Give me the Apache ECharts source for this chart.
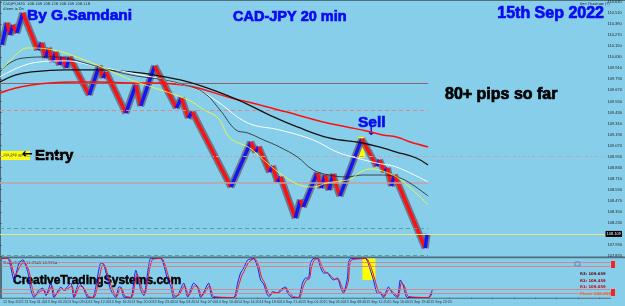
<!DOCTYPE html>
<html>
<head>
<meta charset="utf-8">
<script src="https://cdn.jsdelivr.net/npm/echarts@6/dist/echarts.min.js"></script>
<style>
html, body { margin: 0; padding: 0; background: #87ceeb; }
#chart { width: 625px; height: 306px; }
</style>
</head>
<body>
<div id="chart"></div>
<script>
// swing points of the CADJPY M20 price (bar index, price)
var pivotBars = [1, 3.5, 5, 6.5, 8.5, 11.5, 19, 21, 23, 24.5, 26.5, 28, 30, 31.5, 33.5, 35, 45, 50, 52, 53.5,
  63.5, 68.5, 71, 78, 89, 91.5, 95, 97, 116.5, 126.5, 129, 130.5, 136, 137.5, 140, 141.5, 149, 151.5, 153,
  160, 162, 164, 166, 168, 170, 171.5, 182.5, 190, 191.5, 194, 195.5, 197.5, 199, 214.5, 215.5];
var pivotPrices = [110.164, 110.403, 110.272, 110.381, 110.294, 110.511, 110.109, 110.185, 110.022, 110.131,
  109.979, 110.087, 109.946, 110.033, 109.914, 110.033, 109.620, 109.935, 109.805, 109.870,
  109.424, 109.729, 109.501, 109.935, 109.479, 109.587, 109.370, 109.435, 108.620, 109.109, 109.000, 109.055,
  108.783, 108.848, 108.674, 108.729, 108.283, 108.479, 108.403,
  108.772, 108.609, 108.750, 108.587, 108.761, 108.609, 108.522, 109.142, 108.848, 108.913, 108.783, 108.827,
  108.631, 108.750, 107.957, 108.109];

// moving averages [bar, price]
var maRed = [[0, 109.642], [8, 109.696], [16, 109.729], [25, 109.751], [37, 109.761], [50, 109.761], [66, 109.751],
  [80, 109.751], [92, 109.729], [100, 109.696], [115, 109.598], [133, 109.501], [150, 109.403], [163, 109.327],
  [175, 109.272], [185, 109.229], [193, 109.185], [200, 109.164], [207, 109.109], [216, 109.055]];
var maBlackSlow = [[0, 109.761], [8, 109.837], [16, 109.870], [33, 109.892], [50, 109.892], [66, 109.870],
  [78, 109.837], [91, 109.783], [103, 109.707], [120, 109.566], [138, 109.381], [150, 109.272], [166, 109.153],
  [183, 109.098], [193, 109.044], [200, 109.000], [210, 108.935], [216, 108.859]];
var maWhite = [[0, 109.816], [10, 109.924], [20, 109.979], [33, 109.990], [50, 109.924], [66, 109.859],
  [83, 109.783], [100, 109.674], [110, 109.544], [125, 109.316], [141, 109.240], [158, 109.131], [170, 109.000],
  [180, 108.935], [190, 108.881], [200, 108.837], [216, 108.674]];
var maBlackFast = [[0, 109.870], [5, 109.968], [12, 110.022], [25, 110.033], [33, 110.022], [41, 109.979],
  [50, 109.924], [66, 109.837], [83, 109.783], [93, 109.729], [103, 109.642], [111, 109.457], [119, 109.240],
  [125, 109.207], [133, 109.131], [141, 109.055], [150, 108.946], [158, 108.805], [166, 108.750], [175, 108.729],
  [183, 108.750], [193, 108.750], [200, 108.729], [206, 108.674], [216, 108.522]];
var maYellow = [[1, 109.892], [8, 110.055], [14, 110.131], [27, 110.109], [40, 110.022], [50, 109.935],
  [66, 109.783], [78, 109.696], [95, 109.566], [103, 109.457], [110, 109.370], [116, 109.153], [126, 109.044],
  [133, 108.913], [141, 108.772], [151, 108.642], [158, 108.620], [165, 108.664], [172, 108.685], [177, 108.707],
  [182, 108.783], [187, 108.816], [193, 108.794], [200, 108.729], [206, 108.631], [216, 108.424]];

// horizontal levels
var lastBar = 216;
var levelGrey = 109.751, levelPinkDash = 109.457, entryPrice = 108.950, levelPink = 108.664;
var levelTeal1 = 108.174, levelTeal2 = 107.880, currentPrice = 108.109;

// stochastic [bar, value]
var stochMain = [[0, 100], [3.5, 100], [6.5, 45], [9, 88], [11, 97], [13.5, 63], [15, 19], [16.5, 0], [19, 19], [21, 24],
  [22.5, 5], [25, 37], [26.5, 0], [30, 27], [31.5, 19], [35, 37], [36.5, 0], [39, 37], [41, 27], [43.5, 0], [46, 0],
  [50, 88], [51, 88], [53.5, 45], [55, 19], [57.5, 0], [59, 27], [60, 27], [61.5, 1], [65, 0], [67.5, 70], [70, 19],
  [71.5, 5], [74, 83], [75, 100], [80, 100], [83.5, 45], [85, 30], [86.5, 0], [88.5, 5], [91.5, 37], [93.5, 1],
  [96.5, 37], [98.5, 27], [100, 0], [104, 37], [106, 0], [116.5, 0], [118.5, 37], [120, 63], [121.5, 75], [123.5, 96],
  [126.5, 100], [128.5, 78], [130, 45], [131.5, 35], [133.5, 6], [134.5, 3], [136, 15], [138.5, 11], [140, 20],
  [142.5, 27], [143.5, 11], [146, 0], [149, 0], [151, 37], [152.5, 50], [154, 50], [155, 88], [156.5, 100],
  [158.5, 100], [160, 78], [161.5, 63], [163.5, 63], [165, 52], [166.5, 45], [168.5, 50], [170, 27], [171.5, 11],
  [173.5, 50], [174, 88], [175, 100], [182.5, 100], [185, 70], [186.5, 45], [188.5, 11], [190, 11], [191.5, 0],
  [194, 27], [196, 11], [198.5, 0], [200, 45], [201.5, 30], [203.5, 0], [214, 0], [216, 19]];
var stochSignal = [[0, 100], [4, 100], [7, 55], [9.5, 80], [11.5, 92], [14, 68], [15.5, 28], [17, 4], [19.5, 15],
  [21.5, 20], [23, 8], [25.5, 30], [27, 4], [30.5, 22], [32, 18], [35.5, 30], [37, 3], [39.5, 30], [41.5, 24], [44, 2],
  [46.5, 0], [50.5, 80], [51.5, 85], [54, 50], [55.5, 25], [58, 2], [59.5, 22], [60.5, 23], [62, 4], [65.5, 0],
  [68, 60], [70.5, 25], [72, 8], [74.5, 75], [76, 98], [80.5, 100], [84, 52], [85.5, 35], [87, 4], [89, 6], [92, 30],
  [94, 5], [97, 30], [99, 24], [100.5, 3], [104.5, 30], [106.5, 3], [117, 0], [119, 30], [120.5, 55], [122, 70],
  [124, 90], [127, 100], [129, 82], [130.5, 52], [132, 38], [134, 10], [135, 6], [136.5, 13], [139, 12], [140.5, 18],
  [143, 24], [144, 14], [146.5, 2], [149.5, 0], [151.5, 30], [153, 45], [154.5, 48], [155.5, 78], [157, 97],
  [159, 100], [160.5, 82], [162, 67], [164, 62], [165.5, 54], [167, 47], [169, 47], [170.5, 30], [172, 15], [174, 42],
  [174.5, 78], [175.5, 96], [183, 100], [185.5, 75], [187, 50], [189, 16], [190.5, 12], [192, 3], [194.5, 22],
  [196.5, 13], [199, 2], [200.5, 38], [202, 30], [204, 3], [214.5, 0], [216, 12]];
var stochLevels = [10, 20, 80, 90];

var timeLabels = ['12 Sep 2022', '13 Sep 01:40', '13 Sep 05:20', '13 Sep 09:00', '13 Sep 12:40', '13 Sep 16:20',
  '13 Sep 20:00', '13 Sep 23:40', '14 Sep 03:20', '14 Sep 07:00', '14 Sep 10:40', '14 Sep 14:20', '14 Sep 18:00',
  '14 Sep 21:40', '15 Sep 01:20', '15 Sep 05:00', '15 Sep 08:40', '15 Sep 12:20', '15 Sep 16:00', '15 Sep 19:40',
  '15 Sep 23:20'];
var labelStep = 10.7;

var pivotNames = ['R3: 109.659', 'R2: 109.459', 'R1: 109.059', 'Pivot: 108.859'];
var pivotColors = ['#5a0000', '#9a0010', '#d00010', '#ff5a00'];

var segs = [], shadows = [];
for (var i = 1; i < pivotBars.length; i++) {
  var c = [[pivotBars[i - 1], pivotPrices[i - 1]], [pivotBars[i], pivotPrices[i]]];
  var up = pivotPrices[i] > pivotPrices[i - 1];
  segs.push({ coords: c, lineStyle: { color: up ? '#1414f5' : '#ff1010' } });
  shadows.push({ coords: c });
}

function maLine(name, data, color, width) {
  return {
    name: name, type: 'line', xAxisIndex: 0, yAxisIndex: 0, data: data, smooth: 0.4,
    showSymbol: false, silent: true, z: 5, lineStyle: { color: color, width: width }
  };
}

var bold = "bold {s}px 'Liberation Sans', Arial, sans-serif";
function f(s) { return bold.replace('{s}', s); }
var tiny = "3.6px 'DejaVu Sans', sans-serif";
// heavy title text: fill plus a thin stroke of the same colour
function title(x, y, text, size, color, align) {
  return { type: 'text', x: x, y: y, style: { text: text, font: f(size), fill: color, stroke: color, lineWidth: 0.7, align: align || 'left', verticalAlign: 'middle' } };
}

var graphics = [
  { type: 'rect', shape: { x: 0, y: 0, width: 625, height: 1 }, style: { fill: '#50707e' }, silent: true },
  { type: 'rect', shape: { x: 0, y: 0, width: 1, height: 298 }, style: { fill: '#50707e' }, silent: true },
  { type: 'rect', shape: { x: 0, y: 256.5, width: 625, height: 1.8 }, style: { fill: '#4f6d7c' }, silent: true },
  { type: 'rect', shape: { x: 0, y: 297.8, width: 611, height: 1 }, style: { fill: '#4f6d7c' }, silent: true },
  { type: 'text', x: 3, y: 2, style: { text: 'CADJPY,M20  108.109 108.128 108.109 108.118', font: tiny, fill: '#222' } },
  { type: 'text', x: 3, y: 7, style: { text: 'Alarm is On', font: tiny, fill: '#222' } },
  { type: 'text', x: 580, y: 2, style: { text: 'Ken Thashaw (?)', font: tiny, fill: '#222' } },
  title(27, 16, 'By G.Samdani', 15.5, '#0a0af2'),
  title(233, 17, 'CAD-JPY 20 min', 14.5, '#0a0af2'),
  title(604, 14, '15th Sep 2022', 16, '#0a0af2', 'right'),
  title(445, 95, '80+ pips so far', 16, '#000'),
  title(358, 122.5, 'Sell', 15.5, '#0a0af2'),
  { type: 'text', x: 371, y: 132, style: { text: '\u2193', font: "bold 12px 'DejaVu Sans', sans-serif", fill: '#0a0af2', align: 'center', verticalAlign: 'middle' } },
  { type: 'rect', shape: { x: 1, y: 151, width: 29, height: 9 }, style: { fill: '#ffff00' }, silent: true },
  { type: 'text', x: 3, y: 155.5, style: { text: '108.950 entry', font: "3.4px 'DejaVu Sans', sans-serif", fill: '#333', verticalAlign: 'middle' } },
  { type: 'text', x: 22, y: 155, style: { text: '\u2190', font: "bold 13px 'DejaVu Sans', sans-serif", fill: '#000', verticalAlign: 'middle' } },
  title(35, 155.5, 'Entry', 15, '#000'),
  { type: 'text', x: 3, y: 261, style: { text: 'Stoch(8,3,3) 11.2949 10.9994', font: tiny, fill: '#222' } },
  { type: 'text', x: 13, y: 281, style: { text: 'CreativeTradingSystems.com', font: f(12), fill: '#000', stroke: '#000', lineWidth: 0.5, verticalAlign: 'middle' } },
  { type: 'rect', shape: { x: 575, y: 262, width: 5, height: 4 }, style: { fill: 'none', stroke: '#3050c0', lineWidth: 0.6 }, silent: true },
  { type: 'rect', shape: { x: 611, y: 261, width: 4, height: 7 }, style: { fill: '#ff2020' }, silent: true },
  { type: 'rect', shape: { x: 611, y: 289, width: 4, height: 7 }, style: { fill: '#ff2020' }, silent: true }
];
pivotNames.forEach(function (t, k) {
  graphics.push({ type: 'text', x: 580, y: 274 + k * 6.6, style: { text: t, font: "bold 3.8px 'DejaVu Sans', sans-serif", fill: pivotColors[k], verticalAlign: 'middle' } });
});

var chart = echarts.init(document.getElementById('chart'));
chart.setOption({
  backgroundColor: '#87ceeb',
  animation: false,
  grid: [
    { left: 0, right: 15, top: 2, height: 254 },
    { left: 0, right: 15, top: 258.5, height: 39 }
  ],
  xAxis: [
    { type: 'value', gridIndex: 0, min: 0, max: 305, show: false },
    {
      type: 'value', gridIndex: 1, min: 0, max: 305, interval: labelStep,
      axisLine: { show: false }, splitLine: { show: false },
      axisTick: { show: true, length: 1.5, lineStyle: { color: '#444', width: 0.5 } },
      axisLabel: {
        fontSize: 3.6, color: '#333', margin: 2, align: 'left', padding: [0, 0, 0, 2],
        showMinLabel: true, showMaxLabel: false,
        formatter: function (v) { var k = Math.round(v / labelStep); return timeLabels[k] || ''; }
      }
    }
  ],
  yAxis: [
    {
      type: 'value', gridIndex: 0, position: 'right', min: 107.87, max: 110.63, interval: 0.12,
      splitLine: { show: false },
      axisLine: { show: true, lineStyle: { color: '#4f6d7c', width: 1 } },
      axisTick: { show: true, length: 2, lineStyle: { color: '#333', width: 0.5 } },
      axisLabel: { fontSize: 4, color: '#222', margin: 3, formatter: function (v) { return v.toFixed(3); } }
    },
    {
      type: 'value', gridIndex: 1, position: 'right', min: 0, max: 100,
      splitLine: { show: false }, axisTick: { show: false }, axisLabel: { show: false },
      axisLine: { show: true, lineStyle: { color: '#4f6d7c', width: 1 } }
    }
  ],
  graphic: graphics,
  series: [
    {
      name: 'levels', type: 'line', xAxisIndex: 0, yAxisIndex: 0, data: [[lastBar, currentPrice]],
      showSymbol: false, lineStyle: { width: 0 }, silent: true, z: 1,
      markArea: {
        silent: true, itemStyle: { color: '#ffff00' },
        data: [[{ coord: [180.5, 109.164] }, { coord: [184, 108.935] }]]
      },
      markLine: {
        silent: true, symbol: 'none', label: { show: false }, animation: false,
        data: [
          [{ coord: [0, levelGrey], lineStyle: { color: '#8a6468', width: 1, type: 'solid' } }, { coord: [lastBar, levelGrey] }],
          [{ coord: [0, levelPinkDash], lineStyle: { color: '#d88890', width: 1, type: [4, 3] } }, { coord: [lastBar, levelPinkDash] }],
          { yAxis: entryPrice, lineStyle: { color: '#c2a4b0', width: 1, type: [4, 2, 1, 2] } },
          [{ coord: [0, levelPink], lineStyle: { color: '#c0a0a4', width: 1.6, type: 'solid' } }, { coord: [lastBar, levelPink] }],
          [{ coord: [0, levelTeal1], lineStyle: { color: '#52a48e', width: 1, type: [4, 3] } }, { coord: [lastBar, levelTeal1] }],
          [{ coord: [0, levelTeal2], lineStyle: { color: '#52a48e', width: 1, type: [4, 3] } }, { coord: [lastBar, levelTeal2] }],
          {
            yAxis: currentPrice, lineStyle: { color: '#e6e67a', width: 1, type: 'solid' },
            label: { show: true, position: 'end', distance: 1, formatter: currentPrice.toFixed(3), color: '#fff', backgroundColor: '#000', fontSize: 4, padding: [1, 1] }
          }
        ]
      }
    },
    {
      name: 'shadow', type: 'lines', coordinateSystem: 'cartesian2d', xAxisIndex: 0, yAxisIndex: 0,
      data: shadows, silent: true, z: 2, lineStyle: { color: '#656a7c', width: 7, opacity: 0.85, cap: 'butt' }
    },
    {
      name: 'price', type: 'lines', coordinateSystem: 'cartesian2d', xAxisIndex: 0, yAxisIndex: 0,
      data: segs, silent: true, z: 3, lineStyle: { width: 3.4, opacity: 1 }
    },
    maLine('MA red', maRed, '#ff1010', 1.5),
    maLine('MA black slow', maBlackSlow, '#111111', 1.3),
    maLine('MA white', maWhite, '#ffffff', 1),
    maLine('MA black fast', maBlackFast, '#222222', 0.8),
    maLine('MA yellow', maYellow, '#ffff20', 0.8),
    {
      name: 'stoch signal', type: 'line', xAxisIndex: 1, yAxisIndex: 1, data: stochSignal, smooth: 0.2,
      showSymbol: false, silent: true, z: 4, lineStyle: { color: '#ff1010', width: 1 },
      markArea: {
        silent: true, itemStyle: { color: '#ffff00' },
        data: [[{ coord: [181, 45] }, { coord: [187.5, 100] }]]
      },
      markLine: {
        silent: true, symbol: 'none', label: { show: false },
        lineStyle: { color: '#e07878', width: 0.8, type: 'solid' },
        data: stochLevels.map(function (v) { return { yAxis: v }; })
      }
    },
    {
      name: 'stoch main', type: 'line', xAxisIndex: 1, yAxisIndex: 1, data: stochMain, smooth: 0.2,
      showSymbol: false, silent: true, z: 3, lineStyle: { color: '#1a1aff', width: 1 }
    }
  ]
});
</script>
</body>
</html>
